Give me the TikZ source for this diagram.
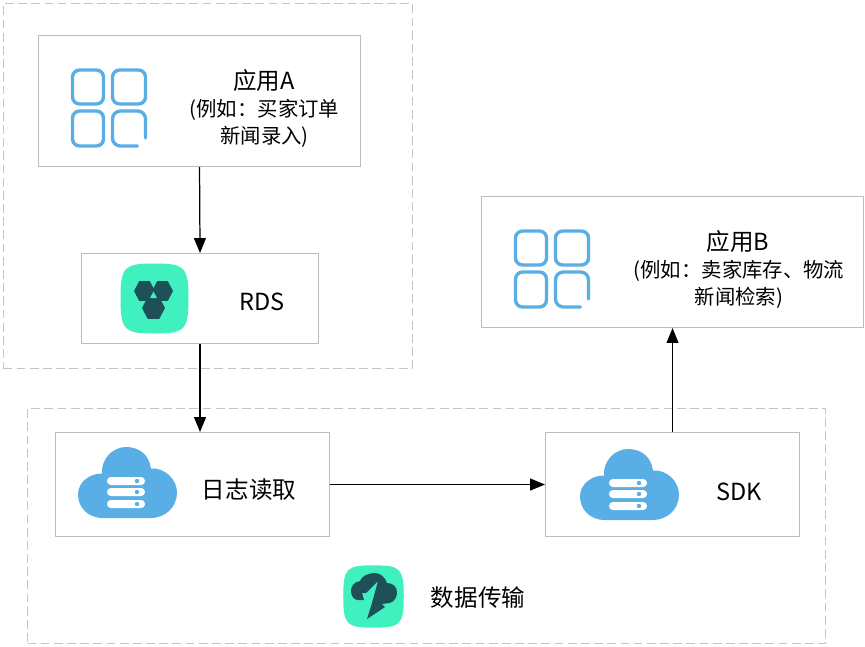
\documentclass[tikz,border=0pt]{standalone}
\usepackage{fontspec}
\setmainfont{Noto Sans CJK SC}
\usetikzlibrary{arrows.meta}
\usetikzlibrary{positioning}
\definecolor{iconblue}{HTML}{5AAEE6}
\definecolor{icongreen}{HTML}{40F0BE}
\definecolor{icondark}{HTML}{1D5157}
\definecolor{boxgray}{HTML}{BDBDBD}
\definecolor{dashgray}{HTML}{C4C4C4}
\tikzset{
    x=0.02cm,
    y=-0.02cm,
    box/.style={
            draw=boxgray,
            line width=0.6pt,
            anchor=north west,
            inner sep=0pt
        },
    groupbox/.style={
            draw=dashgray,
            line width=0.6pt,
            dash pattern=on 5pt off 2.5pt,
            anchor=north west,
            inner sep=0pt
        },
    textnode/.style={
            align=center,
            inner sep=0pt,
            font=\fontsize{13.4pt}{16pt}\selectfont
        },
    smalltext/.style={
            align=center,
            inner sep=0pt,
            font=\fontsize{11.6pt}{15.2pt}\selectfont
        },
    conn/.style={
            -{Triangle[length=8.5pt,width=6.8pt]},
            line width=0.7pt
        },
    pics/gridicon/.style={
            code={
                    \draw[iconblue,line width=1.9pt,rounded corners=4pt]
                    (-36,-38) rectangle (-5,-4)
                    (4,-38) rectangle (37,-4)
                    (-36,3) rectangle (-5,38);
                    \draw[iconblue,line width=1.9pt,line cap=round,rounded corners=4.5pt]
                    (37,30) -- (37,3) -- (4,3) -- (4,38) -- (29,38);
                }
        },
    pics/greentile/.style={
            code={
                    \fill[icongreen] (0,-35) .. controls (30,-35) and (34,-32) .. (34,0)
                    .. controls (34,32) and (30,35) .. (0,35)
                    .. controls (-30,35) and (-34,32) .. (-34,0)
                    .. controls (-34,-32) and (-30,-35) .. (0,-35) -- cycle;
                }
        }
}
\newcommand{\hexat}[3]{\fill[icondark] (#1+#3,#2) -- (#1+#3/2,#2+#3*0.95) -- (#1-#3/2,#2+#3*0.95)
    -- (#1-#3,#2) -- (#1-#3/2,#2-#3*0.95) -- (#1+#3/2,#2-#3*0.95) -- cycle;}
\newcommand{\cloudat}[2]{
    \begin{scope}[shift={(#1,#2)}]
        \fill[iconblue] (-24,35.5) .. controls (-40,35.5) and (-49,24) .. (-49,12)
        .. controls (-49,0) and (-38,-9) .. (-25,-9)
        .. controls (-26,-24) and (-14,-35.5) .. (-1,-35.5)
        .. controls (12,-35.5) and (22,-28) .. (24,-14)
        .. controls (38,-15) and (50,-3) .. (50,10)
        .. controls (50,25) and (38,35.5) .. (24,35.5) -- cycle;
        \foreach \bary in {-1.5,9.5,21.5} {
                \fill[white,rounded corners=2.2pt] (-20,\bary-4) rectangle (18,\bary+4);
                \fill[iconblue] (10,\bary) circle (2.2);
            }
    \end{scope}
}
\begin{document}
\begin{tikzpicture}
    \useasboundingbox (0,0) rectangle (865,646);

    % Dashed groups
    \node[groupbox,minimum width=409*0.02cm,minimum height=365*0.02cm] (groupA) at (3,3) {};
    \node[groupbox,minimum width=798*0.02cm,minimum height=235*0.02cm] (groupT) at (27,408) {};

    % Boxes
    \node[box,minimum width=322*0.02cm,minimum height=131*0.02cm] (appA) at (38,35) {};
    \node[box,minimum width=237*0.02cm,minimum height=90*0.02cm] (rds) at (81,253) {};
    \node[box,minimum width=382*0.02cm,minimum height=131*0.02cm] (appB) at (481,196) {};
    \node[box,minimum width=274*0.02cm,minimum height=104*0.02cm] (logread) at (55,432) {};
    \node[box,minimum width=254*0.02cm,minimum height=104*0.02cm] (sdk) at (545,432) {};

    % Icons
    \pic at (108.5,108) {gridicon};
    \pic at (551.5,269) {gridicon};
    \pic at (154.5,298.5) {greentile};
    \pic[scale=0.89] at (373.5,596.5) {greentile};
    \hexat{144.5}{291}{10.5}
    \hexat{162.5}{291}{10.5}
    \hexat{153.5}{308}{11.5}
    \fill[icongreen] (153.5,291.5) -- (157,298) -- (150,298) -- cycle;
    \cloudat{127}{482.5}
    \cloudat{629}{484.5}
    \fill[icondark] (378,581) -- (372,603) -- (367,619) -- (385,607) -- (382,604) -- (390,603)
    .. controls (395,601) and (397,597) .. (397,592)
    .. controls (397,587) and (393,583) .. (387,583)
    .. controls (385,577) and (380,573) .. (375,573)
    .. controls (368,573) and (362,576) .. (360,581)
    .. controls (354,582) and (351,586) .. (351,591)
    .. controls (351,596) and (354,600) .. (358,600)
    -- (364,600) -- (362,593) -- (366,593) -- cycle;

    % Labels
    \node[textnode] (appAtitle) at (264,81) {应用A};
    \node[smalltext] (appAtext) at (264.5,123.5) {(例如：买家订单\\新闻录入)};
    \node[textnode] (rdstext) at (262,302) {RDS};
    \node[textnode] (appBtitle) at (738,242) {应用B};
    \node[smalltext] (appBtext) at (739,284.5) {(例如：卖家库存、物流\\新闻检索)};
    \node[textnode] (logtext) at (249,490) {日志读取};
    \node[textnode] (sdktext) at (739,492) {SDK};
    \node[textnode] (grouptext) at (478,598) {数据传输};

    % Connectors
    \draw[conn] (appA.south) -- (rds.north);
    \draw[conn] (rds.south) -- (rds.south |- logread.north);
    \draw[conn] (logread.east) -- (sdk.west);
    \draw[conn] (sdk.north) -- (sdk.north |- appB.south);

\end{tikzpicture}
\end{document}
